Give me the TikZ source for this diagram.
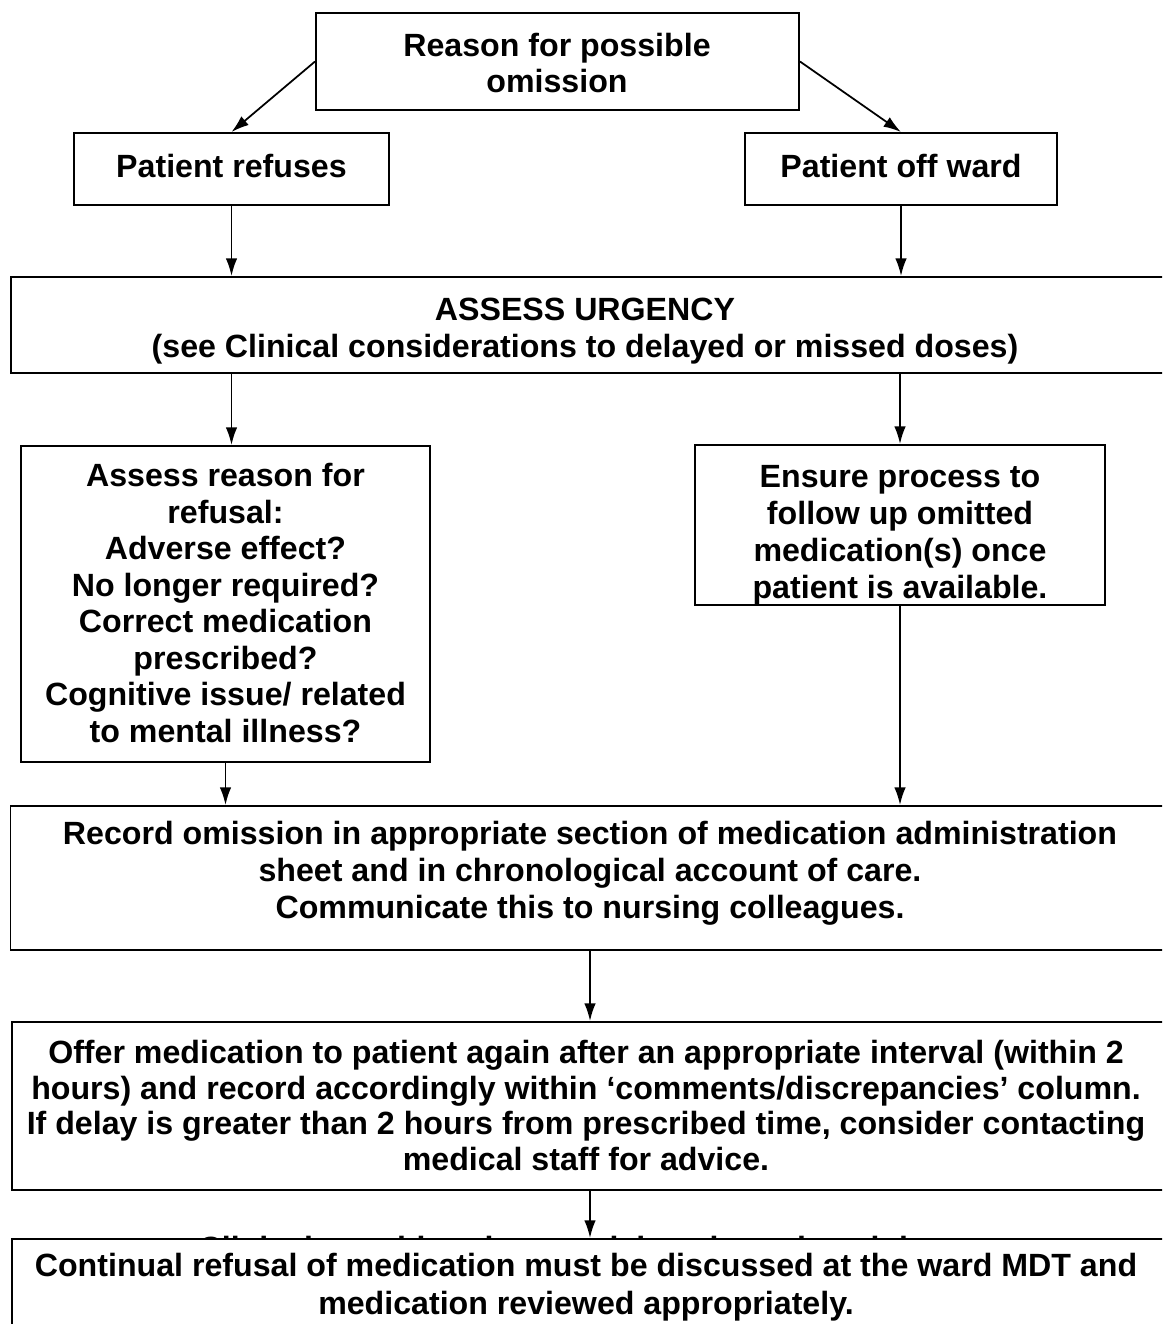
\documentclass[tikz,border=0pt]{standalone}
\usepackage{fontspec}
\setmainfont{Liberation Sans}
\usetikzlibrary{arrows.meta}
\begin{document}
\begin{tikzpicture}[x=0.02cm,y=-0.02cm,
  box/.style={draw,line width=1.1pt,fill=white,inner sep=0pt},
  txt/.style={align=center,inner sep=0pt,font=\fontsize{18.3}{21}\selectfont\bfseries},
  arr/.style={-{Latex[length=10pt,width=6.5pt]},line width=1pt}]
  \clip (0,0) rectangle (1162,1324);
  \fill[white] (0,0) rectangle (1162,1324);
  % boxes
  \node[box,minimum width=483*0.02cm,minimum height=97*0.02cm] (reason) at (557.5,61.5) {};
  \node[txt] (reasont) at (557,63) {Reason for possible\\omission};
  \node[box,minimum width=315*0.02cm,minimum height=72*0.02cm] (refuse) at (231.5,169) {};
  \node[txt] (refuset) at (231.5,166) {Patient refuses};
  \node[box,minimum width=312*0.02cm,minimum height=72*0.02cm] (offward) at (901,169) {};
  \node[txt] (offwardt) at (901,166) {Patient off ward};
  \node[box,minimum width=1154*0.02cm,minimum height=96*0.02cm] (assess) at (588,325) {};
  \node[txt] (assesst) at (585,331) {ASSESS URGENCY\\(see Clinical considerations to delayed or missed doses)};
  \node[box,minimum width=409*0.02cm,minimum height=316*0.02cm] (refusal) at (225.5,604) {};
  \node[txt,font=\fontsize{18.3}{20.8}\selectfont\bfseries] (refusalt) at (225.5,603) {Assess reason for\\refusal:\\Adverse effect?\\No longer required?\\Correct medication\\prescribed?\\Cognitive issue/ related\\to mental illness?};
  \node[box,minimum width=410*0.02cm,minimum height=160*0.02cm] (ensure) at (900,525) {};
  \begin{scope}
    \clip (ensure.south west) rectangle (ensure.north east);
    \node[txt] (ensuret) at (900,535) {Ensure process to\\follow up omitted\\medication(s) once\\patient is available.};
  \end{scope}
  \node[box,minimum width=1155*0.02cm,minimum height=144*0.02cm] (record) at (588,878) {};
  \node[txt] (recordt) at (590,873) {Record omission in appropriate section of medication administration\\sheet and in chronological account of care.\\Communicate this to nursing colleagues.};
  \node[box,minimum width=1153*0.02cm,minimum height=168*0.02cm] (offer) at (588.5,1106) {};
  \node[txt,font=\fontsize{18.3}{20.2}\selectfont\bfseries] (offert) at (586,1105.5) {Offer medication to patient again after an appropriate interval (within 2\\hours) and record accordingly within `comments/discrepancies' column.\\If delay is greater than 2 hours from prescribed time, consider contacting\\medical staff for advice.};
  \node[txt] (hidden) at (590,1251) {Clinical considerations to delayed or missed doses};
  \node[box,minimum width=1153*0.02cm,minimum height=104*0.02cm,anchor=north] (final) at (588.5,1238) {};
  \node[txt,font=\fontsize{18.3}{21.4}\selectfont\bfseries] (finalt) at (586,1287) {Continual refusal of medication must be discussed at the ward MDT and\\medication reviewed appropriately.};
  % connectors
  \draw[arr] (reason.west) -- (refuse.north);
  \draw[arr] (reason.east) -- (offward.north);
  \draw[arr] (refuse) -- (refuse |- assess.north);
  \draw[arr] (offward.south) -- (offward |- assess.north);
  \draw[arr] (assess.south -| refuse) -- (refuse |- refusal.north);
  \draw[arr] (assess.south -| ensure) -- (ensure.north);
  \draw[arr] (refusal.south) -- (refusal |- record.north);
  \draw[arr] (ensure.south) -- (ensure |- record.north);
  \draw[arr] (record.south -| hidden) -- (hidden |- offer.north);
  \draw[arr] (offer.south -| hidden) -- (hidden |- final.north);
\end{tikzpicture}
\end{document}
